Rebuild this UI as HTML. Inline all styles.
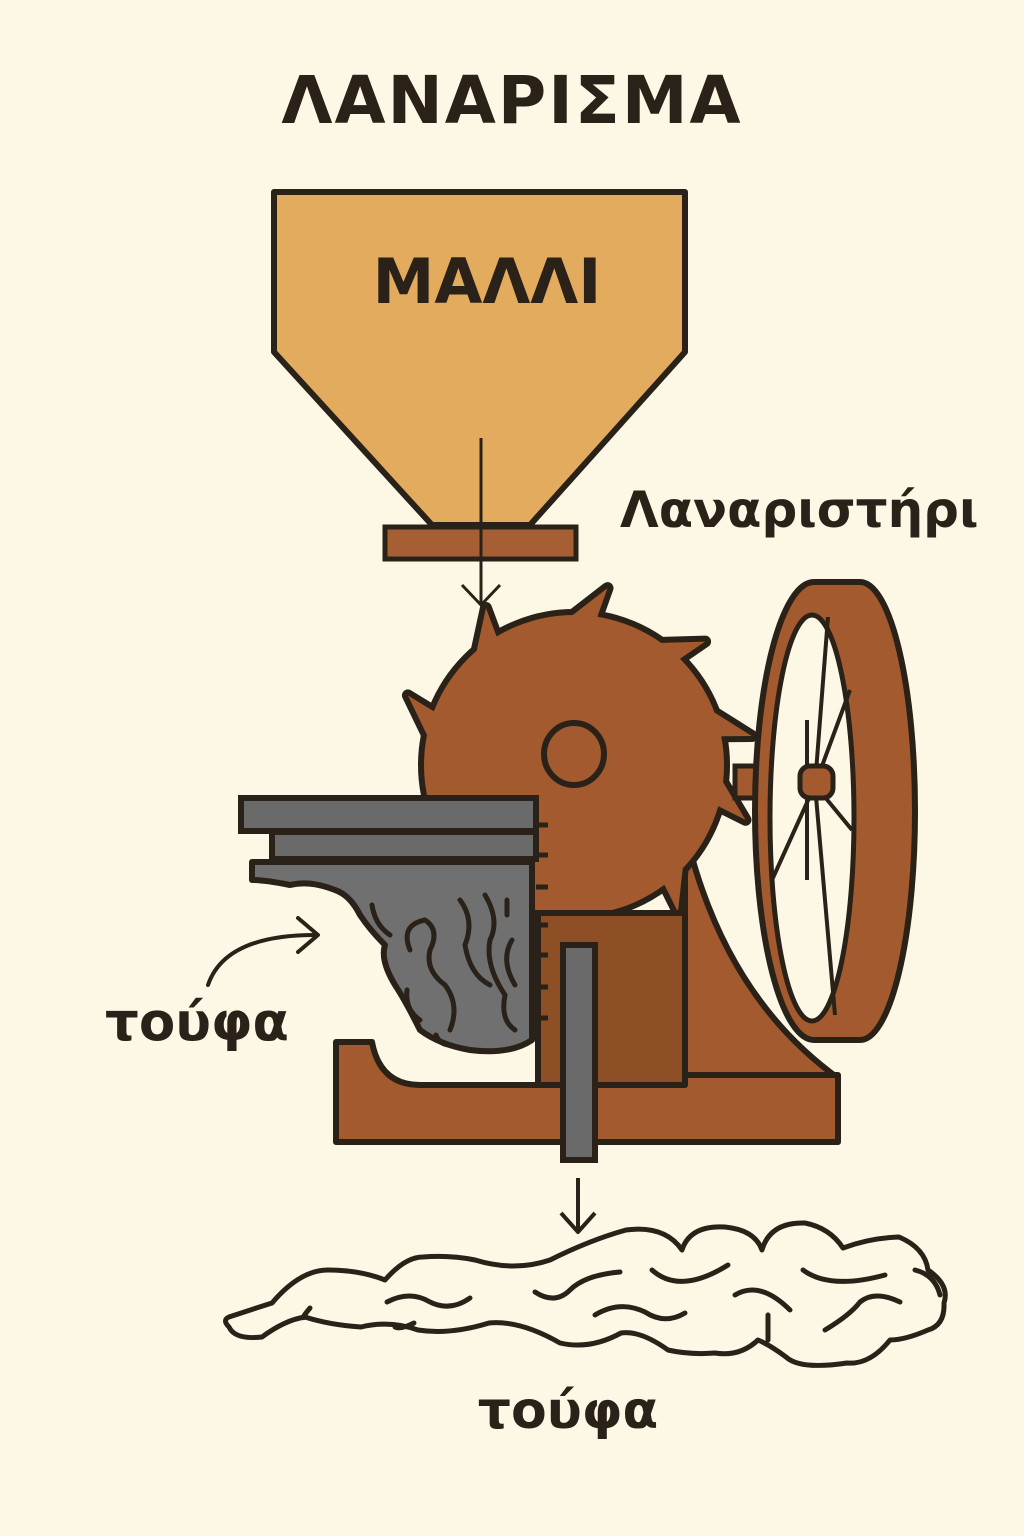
<!DOCTYPE html>
<html><head><meta charset="utf-8"><style>
html,body{margin:0;padding:0;background:#fdf7e6;}
svg{display:block}
text{font-family:"DejaVu Sans","Liberation Sans",sans-serif;font-weight:bold;fill:#2a2218}
</style></head><body>
<svg width="1024" height="1536" viewBox="0 0 1024 1536" xmlns="http://www.w3.org/2000/svg">
<rect width="1024" height="1536" fill="#fdf7e6"/>
<text x="512" y="123" font-size="66" text-anchor="middle" letter-spacing="2">ΛΑΝΑΡΙΣΜΑ</text>

<!-- hopper -->
<polygon points="274,192 685,192 685,352 530,525 432,525 274,352" fill="#e3ab5e" stroke="#2a2218" stroke-width="6" stroke-linejoin="round"/>
<text x="487" y="303" font-size="62" text-anchor="middle">ΜΑΛΛΙ</text>
<rect x="385" y="527" width="191" height="32" fill="#a65f35" stroke="#2a2218" stroke-width="5"/>
<line x1="481" y1="438" x2="481" y2="603" stroke="#2a2218" stroke-width="3"/>
<polyline points="462,585 481,605 500,585" fill="none" stroke="#2a2218" stroke-width="3"/>
<text x="620" y="527" font-size="50">Λαναριστήρι</text>

<!-- back support curve -->
<path d="M690,850 Q730,1000 838,1078 L838,1140 L685,1140 L685,850 Z" fill="#a25a2e" stroke="#2a2218" stroke-width="6" stroke-linejoin="round"/>

<!-- drum outline (stroke layer) -->
<g stroke="#2a2218" stroke-width="12" stroke-linejoin="round" fill="#a25a2e">
<circle cx="574" cy="765" r="150"/>
<polygon points="128,-48 180,-4 150,-8 146,12" transform="translate(574,765) rotate(204)"/>
<polygon points="128,-48 180,-4 150,-8 146,12" transform="translate(574,765) rotate(242)"/>
<polygon points="128,-48 180,-4 150,-8 146,12" transform="translate(574,765) rotate(282)"/>
<polygon points="128,-48 180,-4 150,-8 146,12" transform="translate(574,765) rotate(318)"/>
<polygon points="128,-48 180,-4 150,-8 146,12" transform="translate(574,765) rotate(352)"/>
<polygon points="128,-48 180,-4 150,-8 146,12" transform="translate(574,765) rotate(19)"/>
<polygon points="128,-48 180,-4 150,-8 146,12" transform="translate(574,765) rotate(56)"/>
</g>
<g fill="#a25a2e" stroke="none">
<circle cx="574" cy="765" r="150"/>
<polygon points="128,-48 180,-4 150,-8 146,12" transform="translate(574,765) rotate(204)"/>
<polygon points="128,-48 180,-4 150,-8 146,12" transform="translate(574,765) rotate(242)"/>
<polygon points="128,-48 180,-4 150,-8 146,12" transform="translate(574,765) rotate(282)"/>
<polygon points="128,-48 180,-4 150,-8 146,12" transform="translate(574,765) rotate(318)"/>
<polygon points="128,-48 180,-4 150,-8 146,12" transform="translate(574,765) rotate(352)"/>
<polygon points="128,-48 180,-4 150,-8 146,12" transform="translate(574,765) rotate(19)"/>
<polygon points="128,-48 180,-4 150,-8 146,12" transform="translate(574,765) rotate(56)"/>
</g>
<ellipse cx="574" cy="754" rx="30" ry="31" fill="#a25a2e" stroke="#2a2218" stroke-width="6"/>

<!-- stand body -->
<rect x="538" y="913" width="147" height="172" fill="#8f4f26" stroke="#2a2218" stroke-width="6"/>
<!-- base -->
<path d="M336,1042 L372,1042 Q380,1085 420,1085 L685,1085 L685,1075 L838,1075 L838,1142 L336,1142 Z" fill="#a25a2e" stroke="#2a2218" stroke-width="6" stroke-linejoin="round"/>

<!-- wheel -->
<rect x="735" y="766" width="98" height="32" fill="#a25a2e" stroke="#2a2218" stroke-width="5"/>
<ellipse cx="814" cy="811" rx="59" ry="229" fill="#a25a2e" stroke="#2a2218" stroke-width="6"/>
<ellipse cx="860" cy="811" rx="55" ry="229" fill="#a25a2e" stroke="#2a2218" stroke-width="6"/>
<rect x="814" y="585" width="46" height="452" fill="#a25a2e"/>
<path d="M814,582 L860,582 M814,1040 L860,1040" stroke="#2a2218" stroke-width="6"/>
<ellipse cx="812" cy="818" rx="42" ry="203" fill="#fdf7e6" stroke="#2a2218" stroke-width="5"/>
<g stroke="#2a2218" stroke-width="4">
<line x1="815" y1="785" x2="828" y2="617"/>
<line x1="815" y1="785" x2="850" y2="690"/>
<line x1="815" y1="785" x2="772" y2="880"/>
<line x1="815" y1="785" x2="835" y2="1015"/>
<line x1="815" y1="785" x2="852" y2="830"/>
<line x1="807" y1="720" x2="807" y2="880"/>
</g>
<rect x="800" y="766" width="33" height="32" rx="10" fill="#a25a2e" stroke="#2a2218" stroke-width="5"/>

<!-- gray feeder -->
<rect x="241" y="798" width="295" height="33" fill="#6a6a6a" stroke="#2a2218" stroke-width="6"/>
<rect x="272" y="832" width="264" height="27" fill="#6a6a6a" stroke="#2a2218" stroke-width="6"/>
<g stroke="#2a2218" stroke-width="5">
<line x1="536" y1="825" x2="548" y2="825"/><line x1="536" y1="855" x2="548" y2="855"/>
<line x1="536" y1="887" x2="548" y2="887"/><line x1="536" y1="925" x2="548" y2="925"/>
<line x1="536" y1="955" x2="548" y2="955"/><line x1="536" y1="987" x2="548" y2="987"/>
<line x1="536" y1="1018" x2="548" y2="1018"/>
</g>
<path d="M252,862 L532,862 L532,1040 Q510,1055 470,1050 Q440,1045 420,1030 Q405,1000 395,985 Q380,960 385,945 Q370,930 360,915 Q350,895 335,890 Q310,880 290,885 Q265,880 252,880 Z" fill="#707070" stroke="#2a2218" stroke-width="6" stroke-linejoin="round"/>
<g fill="none" stroke="#2a2218" stroke-width="5" stroke-linecap="round">
<path d="M372,905 Q375,925 390,935"/>
<path d="M410,950 Q400,925 425,920 Q440,930 430,950 Q425,970 445,985 Q460,1005 450,1030"/>
<path d="M460,900 Q475,920 465,945 Q470,975 490,985"/>
<path d="M485,895 Q500,920 490,940 Q485,965 505,995 Q500,1020 515,1030"/>
<path d="M507,900 L507,915"/><path d="M512,940 Q500,960 515,985"/>
<path d="M407,990 Q405,1010 420,1020"/><path d="M436,1035 Q440,1045 450,1045"/>
</g>

<!-- vertical bar -->
<rect x="563" y="945" width="32" height="215" fill="#6a6a6a" stroke="#2a2218" stroke-width="6"/>

<!-- curved arrow -->
<path d="M208,985 Q225,935 315,935" fill="none" stroke="#2a2218" stroke-width="4" stroke-linecap="round"/>
<polyline points="298,918 318,935 298,952" fill="none" stroke="#2a2218" stroke-width="4" stroke-linecap="round" stroke-linejoin="round"/>
<text x="105" y="1040" font-size="53">τούφα</text>

<!-- down arrow -->
<line x1="578" y1="1178" x2="578" y2="1232" stroke="#2a2218" stroke-width="4"/>
<polyline points="561,1213 578,1232 595,1213" fill="none" stroke="#2a2218" stroke-width="4" stroke-linejoin="round"/>

<!-- cloud -->
<path d="M229,1317 Q250,1310 272,1303 Q300,1270 328,1270 Q360,1270 385,1280 Q405,1257 423,1257 Q450,1255 475,1260 Q515,1272 550,1260 Q590,1240 626,1230 Q665,1225 682,1250 Q690,1225 725,1227 Q755,1230 762,1250 Q770,1222 805,1223 Q830,1228 843,1248 Q870,1238 899,1237 Q925,1248 928,1270 Q950,1285 944,1303 Q945,1325 928,1330 Q905,1340 890,1340 Q870,1365 847,1363 Q800,1370 786,1357 Q770,1345 758,1340 Q740,1357 715,1353 Q690,1355 668,1350 Q640,1330 621,1333 Q590,1350 560,1343 Q520,1320 489,1323 Q450,1335 418,1330 Q390,1320 361,1327 Q330,1325 305,1317 Q285,1320 262,1337 Q235,1340 229,1327 Q222,1320 229,1317 Z" fill="#fdf7e6" stroke="#2a2218" stroke-width="5" stroke-linejoin="round"/>
<g fill="none" stroke="#2a2218" stroke-width="5" stroke-linecap="round">
<path d="M387,1302 Q410,1290 430,1302 Q450,1312 470,1298"/>
<path d="M535,1292 Q555,1305 570,1290 Q585,1275 620,1272"/>
<path d="M652,1270 Q680,1295 728,1265"/>
<path d="M595,1315 Q620,1300 645,1312 Q665,1325 685,1313"/>
<path d="M735,1295 Q760,1280 790,1310"/>
<path d="M803,1270 Q830,1290 885,1275"/>
<path d="M825,1330 Q850,1315 860,1302 Q875,1290 900,1302"/>
<path d="M915,1270 Q935,1275 940,1295"/>
<path d="M768,1315 L768,1340"/>
<path d="M310,1308 Q300,1320 305,1317"/>
<path d="M414,1323 Q400,1330 395,1327"/>
</g>
<text x="568" y="1428" font-size="52" text-anchor="middle">τούφα</text>
</svg>
</body></html>
